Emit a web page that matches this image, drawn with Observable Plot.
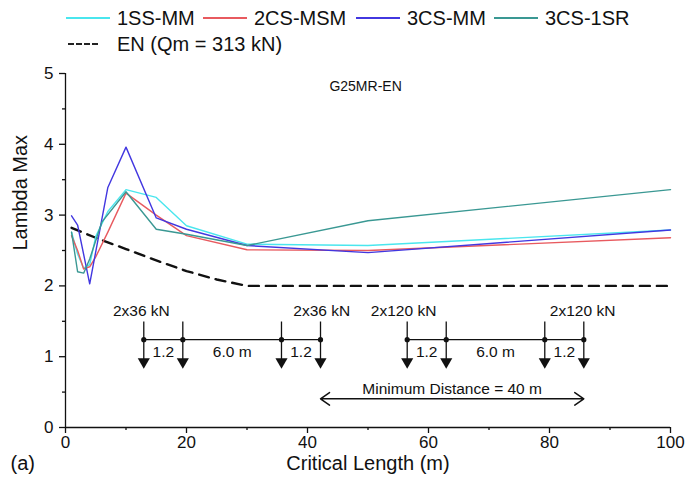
<!DOCTYPE html>
<html><head><meta charset="utf-8">
<script src="https://cdn.jsdelivr.net/npm/d3@7"></script>
<script src="https://cdn.jsdelivr.net/npm/@observablehq/plot@0.6"></script>
<style>
body{margin:0;background:#fff;font-family:"Liberation Sans",Arial,sans-serif;}
#legend{position:relative;width:687px;height:58px;font-size:20px;color:#111;}
.item{position:absolute;display:flex;align-items:center;white-space:nowrap;height:22px}
.sw{display:inline-block;width:44px;height:0;margin-right:7px}
svg{display:block}
</style></head><body>
<div id="legend"></div>
<div id="chart"></div>
<script>
// ---- data ----
const seriesNames = ["1SS-MM", "2CS-MSM", "3CS-MM", "3CS-1SR"];
const seriesColors = ["#4ae6ee", "#e85a5f", "#4237e0", "#3a9893"];
const x1SS = [1, 2, 3, 4, 5, 7, 10, 15, 20, 30, 50, 100];
const y1SS = [2.76, 2.45, 2.25, 2.3, 2.7, 3.05, 3.36, 3.25, 2.85, 2.59, 2.57, 2.79];
const x2CS = [1, 2, 3, 4, 5, 7, 10, 15, 20, 30, 50, 100];
const y2CS = [2.71, 2.5, 2.24, 2.27, 2.41, 2.76, 3.31, 3.0, 2.71, 2.51, 2.50, 2.68];
const x3CS = [1, 2, 4, 7, 10, 15, 20, 30, 50, 100];
const y3CS = [2.99, 2.86, 2.03, 3.39, 3.96, 2.96, 2.80, 2.57, 2.47, 2.79];
const x3SR = [1, 2, 3, 4, 6, 10, 15, 20, 30, 50, 100];
const y3SR = [2.76, 2.2, 2.18, 2.38, 2.9, 3.33, 2.80, 2.73, 2.57, 2.92, 3.36];
const enName = "EN (Qm = 313 kN)";
const xEN = [1, 5, 10, 15, 20, 25, 30, 100];
const yEN = [2.82, 2.68, 2.52, 2.36, 2.21, 2.09, 2.0, 2.0];
const xMajorTicks = [0, 20, 40, 60, 80, 100];
const xMinorTicks = [10, 30, 50, 70, 90];
const yMajorTicks = [0, 1, 2, 3, 4, 5];
const yMinorTicks = [0.5, 1.5, 2.5, 3.5, 4.5];
const panelTitle = "G25MR-EN";
const xTitle = "Critical Length (m)";
const yTitle = "Lambda Max";
const panelTag = "(a)";
// load diagram schematic (data units)
const loadLabels = ["2x36 kN", "2x36 kN", "2x120 kN", "2x120 kN"];
const axleX = [12.94, 19.39, 35.70, 42.15, 56.48, 62.93, 79.22, 85.67];
const spacingLabels = ["1.2", "6.0 m", "1.2", "1.2", "6.0 m", "1.2"];
const minDistLabel = "Minimum Distance = 40 m";

const xs = [x1SS, x2CS, x3CS, x3SR];
const ys = [y1SS, y2CS, y3CS, y3SR];
const rows = [];
seriesNames.forEach((s, i) => xs[i].forEach((x, j) => rows.push({series: s, x, y: ys[i][j]})));
const enRows = xEN.map((x, j) => ({x, y: yEN[j]}));

// legend
const leg = document.getElementById("legend");
const legLeft = [66, 203, 356, 494];
seriesNames.forEach((s, i) => {
  const d = document.createElement("div");
  d.className = "item";
  d.style.left = legLeft[i] + "px"; d.style.top = "7px";
  d.innerHTML = `<span class="sw" style="border-top:2px solid ${seriesColors[i]}"></span><span>${s}</span>`;
  leg.appendChild(d);
});
{
  const d = document.createElement("div");
  d.className = "item";
  d.style.left = "68px"; d.style.top = "33px";
  d.innerHTML = `<span class="sw" style="border-top:2px dashed #222;width:30px;margin-right:19px"></span><span>${enName}</span>`;
  leg.appendChild(d);
}

// annotation geometry
const groups = [[0,1,2,3],[4,5,6,7]];
const yBeam = 1.24, yTop = 1.49, yTip = 0.86, yLoadLbl = 1.64, ySpan = 1.06;
const shafts = axleX.map(x => ({x}));
const beams = groups.map(g => ({x1: axleX[g[0]], x2: axleX[g[3]]}));
const loadText = [
  {x: axleX[0] - 0.4, t: loadLabels[0], a: "start"},
  {x: axleX[3] + 0.2, t: loadLabels[1], a: "end"},
  {x: axleX[4] - 0.6, t: loadLabels[2], a: "start"},
  {x: axleX[7] - 0.2, t: loadLabels[3], a: "end"}
];
const spanText = [];
groups.forEach((g, gi) => {
  for (let k = 0; k < 3; k++) spanText.push({x: (axleX[g[k]] + axleX[g[k+1]]) / 2, t: spacingLabels[gi*3 + k]});
});
const minMid = (axleX[3] + axleX[7]) / 2;

const chart = Plot.plot({
  width: 687, height: 433,
  marginLeft: 65, marginRight: 17, marginTop: 15, marginBottom: 64,
  style: {fontFamily: '"Liberation Sans", Arial, sans-serif', fontSize: "17px", color: "#111", background: "#fff"},
  x: {domain: [0, 100]},
  y: {domain: [0, 5]},
  marks: [
    Plot.ruleY([0], {stroke: "#111", strokeWidth: 1.3}),
    Plot.ruleX([0], {stroke: "#111", strokeWidth: 1.3}),
    Plot.axisX({ticks: xMajorTicks, tickSize: 6, tickPadding: 2, fontSize: 17, label: null, strokeWidth: 1.3}),
    Plot.axisX({ticks: xMinorTicks, tickSize: 3, tickFormat: () => "", label: null, strokeWidth: 1.3}),
    Plot.axisY({ticks: yMajorTicks, tickSize: 6, tickPadding: 6, fontSize: 17, tickFormat: d3.format("d"), label: null, strokeWidth: 1.3}),
    Plot.axisY({ticks: yMinorTicks, tickSize: 3, tickFormat: () => "", label: null, strokeWidth: 1.3}),
    Plot.text([xTitle], {frameAnchor: "bottom", lineAnchor: "middle", dy: 36, text: d => d, fontSize: 20, fill: "#111"}),
    Plot.text([yTitle], {frameAnchor: "left", dx: -45, rotate: -90, text: d => d, fontSize: 20, fill: "#111"}),
    Plot.text([panelTitle], {x: 49.6, y: 4.82, text: d => d, fontSize: 14, fill: "#111"}),
    Plot.line(enRows, {x: "x", y: "y", stroke: "#111", strokeWidth: 2.4, strokeDasharray: "10,7"}),
    Plot.line(rows, {x: "x", y: "y", z: "series", stroke: "series", strokeWidth: 1.4}),
    // load schematic
    Plot.ruleX(shafts, {x: "x", y1: yTop, y2: yTip + 0.08, stroke: "#111", strokeWidth: 1.3}),
    Plot.dot(shafts, {x: "x", y: yTip + 0.07, symbol: "triangle", r: 4.5, rotate: 180, fill: "#111", stroke: "none"}),
    Plot.ruleY(beams, {x1: "x1", x2: "x2", y: yBeam, stroke: "#111", strokeWidth: 1.3}),
    Plot.dot(shafts, {x: "x", y: yBeam, r: 2.6, fill: "#111", stroke: "none"}),
    Plot.text(loadText, {x: "x", y: yLoadLbl, text: "t", textAnchor: "a", fontSize: 15.5, fill: "#111"}),
    Plot.text(spanText, {x: "x", y: ySpan, text: "t", fontSize: 15.5, fill: "#111"}),
    Plot.text([minDistLabel], {x: minMid, y: 0.55, text: d => d, fontSize: 15.5, fill: "#111"}),
    Plot.arrow([{a: minMid, b: axleX[3]}, {a: minMid, b: axleX[7]}], {x1: "a", x2: "b", y1: 0.405, y2: 0.405, stroke: "#111", strokeWidth: 1.5, headLength: 11, headAngle: 70}),
    Plot.text([panelTag], {frameAnchor: "bottom-left", lineAnchor: "middle", dx: -55, dy: 36, text: d => d, fontSize: 20, textAnchor: "start", fill: "#111"})
  ],
  color: {domain: seriesNames, range: seriesColors}
});
document.getElementById("chart").appendChild(chart);
</script>
</body></html>
